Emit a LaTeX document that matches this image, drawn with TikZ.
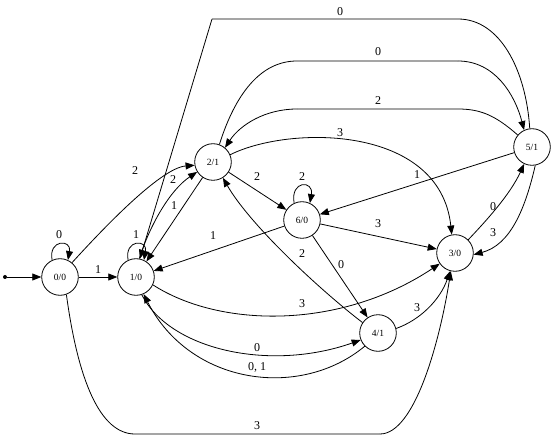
\documentclass[tikz,border=0pt]{standalone}
\usepackage{fontspec}
\setmainfont{Liberation Serif}
\usetikzlibrary{arrows.meta}
\begin{document}
\begin{tikzpicture}[x=1pt,y=1pt,
  st/.style={circle,draw,line width=0.8pt,minimum size=36.6pt,inner sep=0pt,font=\fontsize{9.5}{11}\selectfont},
  lbl/.style={inner sep=0pt,font=\fontsize{12}{14}\selectfont},
  tr/.style={line width=0.8pt,-{Triangle[length=9pt,width=7pt]}},
  plain/.style={line width=0.8pt},
  startdot/.style={circle,fill,inner sep=0pt,minimum size=4pt}]
\useasboundingbox (0,0) rectangle (554,-438);
% states
\node[startdot] (s) at (5,-277) {};
\node[st] (n00) at (60,-277) {0/0};
\node[st] (n10) at (136,-277) {1/0};
\node[st] (n21) at (213,-162) {2/1};
\node[st] (n60) at (302,-220) {6/0};
\node[st] (n30) at (455,-253) {3/0};
\node[st] (n41) at (378,-333) {4/1};
\node[st] (n51) at (532,-147) {5/1};
% helper coordinates
\coordinate (oa) at (458,-19);
\coordinate (ob) at (212,-19);
\coordinate (ta) at (297,-61);
\coordinate (tb) at (458,-61);
\coordinate (ua) at (458,-109);
\coordinate (ub) at (297,-109);
\coordinate (ba) at (135,-434);
\coordinate (bb) at (380,-434);
% start
\draw[tr] (s) -- (n00);
% loops
\draw[tr] (n00.115) .. controls +(-4,21) and +(4,21) .. (n00.65);
\draw[tr] (n10.115) .. controls +(-4,21) and +(4,21) .. (n10.65);
\draw[tr] (n60.115) .. controls +(-4,23) and +(4,23) .. (n60.65);
\node[lbl] (l1) at (59,-235) {0};
\node[lbl] (l2) at (136,-235) {1};
\node[lbl] (l3) at (302,-177) {2};
% 0/0 edges
\draw[tr] (n00) -- (n10);
\node[lbl] (l4) at (98,-270) {1};
\draw[tr] (n00.50) .. controls (100,-232) and (160,-168) .. (n21.190);
\node[lbl] (l5) at (135,-171) {2};
\draw[plain] (n00.-70) .. controls (78,-380) and (100,-434) .. (ba) -- (bb);
\draw[tr] (bb) .. controls (415,-434) and (440,-340) .. (n30.257);
\node[lbl] (l6) at (257,-426) {3};
% 1/0 <-> 2/1
\draw[tr] (n10.80) .. controls (150,-225) and (170,-190) .. (n21.212);
\node[lbl] (l7) at (173,-180) {2};
\draw[tr] (n21) -- (n10);
\node[lbl] (l8) at (174,-206) {1};
% 5/1 -> 1/0 outer
\draw[plain] (n51.97) .. controls (526,-70) and (500,-19) .. (oa) -- (ob);
\draw[tr] (ob) -- (n10.78);
\node[lbl] (l9) at (340,-12) {0};
% 2/1 -> 5/1
\draw[plain] (n21.70) .. controls (235,-95) and (260,-61) .. (ta) -- (tb);
\draw[tr] (tb) .. controls (495,-61) and (515,-95) .. (n51.115);
\node[lbl] (l10) at (378,-52) {0};
% 5/1 -> 2/1
\draw[plain] (n51.140) .. controls (495,-115) and (480,-109) .. (ua) -- (ub);
\draw[tr] (ub) .. controls (265,-109) and (240,-125) .. (n21.50);
\node[lbl] (l11) at (378,-101) {2};
% 2/1 -> 3/0
\draw[tr] (n21.23) .. controls (290,-125) and (440,-125) .. (n30.100);
\node[lbl] (l12) at (340,-133) {3};
% 2/1 -> 6/0
\draw[tr] (n21) -- (n60);
\node[lbl] (l13) at (257,-177) {2};
% 5/1 -> 6/0
\draw[tr] (n51) -- (n60);
\node[lbl] (l14) at (417,-175) {1};
% 6/0 -> 1/0
\draw[tr] (n60) -- (n10);
\node[lbl] (l15) at (213,-236) {1};
% 6/0 -> 3/0
\draw[tr] (n60) -- (n30);
\node[lbl] (l16) at (378,-224) {3};
% 6/0 -> 4/1
\draw[tr] (n60) -- (n41);
\node[lbl] (l17) at (341,-265) {0};
% 4/1 -> 2/1
\draw[tr] (n41.146) .. controls (320,-290) and (250,-225) .. (n21.302);
\node[lbl] (l18) at (302,-254) {2};
% 1/0 -> 3/0
\draw[tr] (n10.-25) .. controls (220,-328) and (340,-330) .. (n30.215);
\node[lbl] (l19) at (302,-304) {3};
% 4/1 -> 3/0
\draw[tr] (n41.14) .. controls (420,-320) and (440,-300) .. (n30.255);
\node[lbl] (l20) at (417,-308) {3};
% 1/0 -> 4/1
\draw[tr] (n10.-72) .. controls (170,-350) and (270,-372) .. (n41.202);
\node[lbl] (l21) at (257,-348) {0};
% 4/1 -> 1/0
\draw[tr] (n41.225) .. controls (300,-400) and (190,-385) .. (n10.-66);
\node[lbl] (l22) at (257,-367) {0, 1};
% 5/1 <-> 3/0
\draw[tr] (n51.-80) .. controls (525,-210) and (510,-245) .. (n30.-5);
\node[lbl] (l23) at (493,-233) {3};
\draw[tr] (n30.45) .. controls (485,-222) and (510,-195) .. (n51.245);
\node[lbl] (l24) at (493,-207) {0};
\end{tikzpicture}
\end{document}
